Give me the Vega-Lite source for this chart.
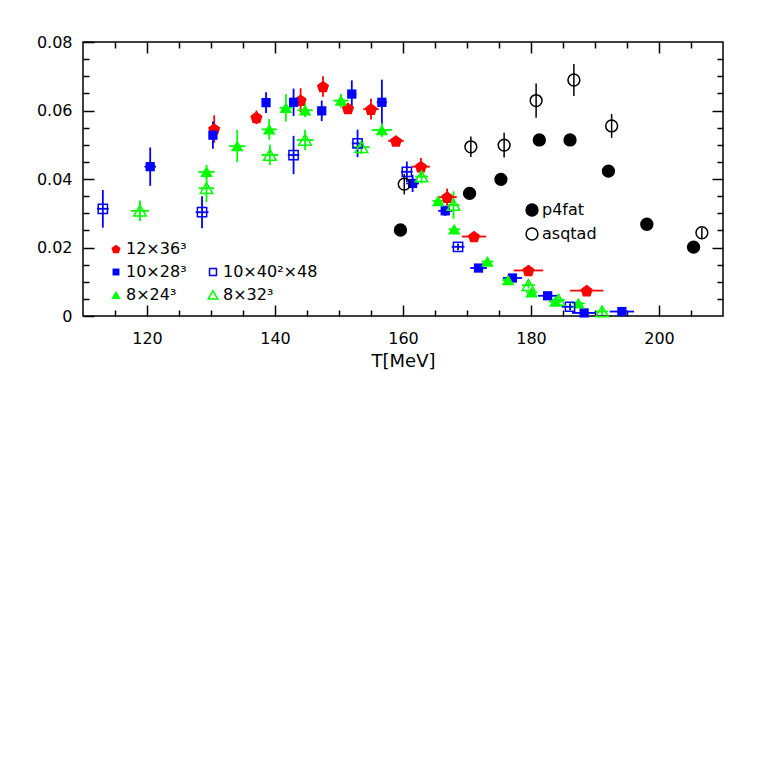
{
  "$schema": "https://vega.github.io/schema/vega-lite/v6.json",
  "width": 640,
  "height": 274,
  "autosize": {"type": "none"},
  "padding": {"left": 83, "top": 42, "right": 40, "bottom": 447},
  "background": "white",
  "config": {
    "font": "DejaVu Sans",
    "view": {"stroke": "black", "strokeWidth": 1.5},
    "axis": {"domain": false, "grid": false, "ticks": true, "tickColor": "black", "tickWidth": 1.5, "labelFont": "DejaVu Sans", "labelFontSize": 16, "labelColor": "black", "titleFont": "DejaVu Sans", "titleFontSize": 18, "titleFontWeight": "normal", "titleColor": "black", "labelOverlap": false, "labelFlush": false},
    "legend": {"labelFont": "DejaVu Sans", "labelFontSize": 16, "labelColor": "black", "padding": 0}
  },
  "datasets": {
    "pts": [
      {"s": "12×36³", "T": 130.5, "v": 0.0546, "vlo": 0.0506, "vhi": 0.0586, "tlo": 129.9, "thi": 131.1},
      {"s": "12×36³", "T": 137.1, "v": 0.058, "vlo": 0.056, "vhi": 0.060, "tlo": 136.5, "thi": 137.7},
      {"s": "12×36³", "T": 144.0, "v": 0.063, "vlo": 0.0595, "vhi": 0.0665, "tlo": 143.3, "thi": 144.7},
      {"s": "12×36³", "T": 147.5, "v": 0.067, "vlo": 0.064, "vhi": 0.070, "tlo": 146.8, "thi": 148.2},
      {"s": "12×36³", "T": 151.4, "v": 0.0606, "vlo": 0.0591, "vhi": 0.0621, "tlo": 150.6, "thi": 152.2},
      {"s": "12×36³", "T": 155.0, "v": 0.0604, "vlo": 0.0574, "vhi": 0.0634, "tlo": 153.8, "thi": 156.2},
      {"s": "12×36³", "T": 158.9, "v": 0.0511, "vlo": 0.0496, "vhi": 0.0526, "tlo": 157.7, "thi": 160.1},
      {"s": "12×36³", "T": 162.8, "v": 0.0436, "vlo": 0.0411, "vhi": 0.0461, "tlo": 161.4, "thi": 164.2},
      {"s": "12×36³", "T": 166.9, "v": 0.0347, "vlo": 0.0322, "vhi": 0.0372, "tlo": 165.4, "thi": 168.4},
      {"s": "12×36³", "T": 171.1, "v": 0.0232, "vlo": 0.0217, "vhi": 0.0247, "tlo": 169.2, "thi": 173.0},
      {"s": "12×36³", "T": 179.6, "v": 0.0133, "vlo": 0.0118, "vhi": 0.0148, "tlo": 177.3, "thi": 181.9},
      {"s": "12×36³", "T": 188.7, "v": 0.0074, "vlo": 0.0059, "vhi": 0.0089, "tlo": 186.1, "thi": 191.3},
      {"s": "10×28³", "T": 120.5, "v": 0.0436, "vlo": 0.038, "vhi": 0.0492, "tlo": 119.6, "thi": 121.4},
      {"s": "10×28³", "T": 130.3, "v": 0.0528, "vlo": 0.0488, "vhi": 0.0568, "tlo": 129.7, "thi": 130.9},
      {"s": "10×28³", "T": 138.6, "v": 0.0623, "vlo": 0.0593, "vhi": 0.0653, "tlo": 138.0, "thi": 139.2},
      {"s": "10×28³", "T": 142.9, "v": 0.0624, "vlo": 0.0584, "vhi": 0.0664, "tlo": 142.3, "thi": 143.5},
      {"s": "10×28³", "T": 147.3, "v": 0.0599, "vlo": 0.0569, "vhi": 0.0629, "tlo": 146.6, "thi": 148.0},
      {"s": "10×28³", "T": 152.0, "v": 0.0648, "vlo": 0.0608, "vhi": 0.0688, "tlo": 151.3, "thi": 152.7},
      {"s": "10×28³", "T": 156.7, "v": 0.0624, "vlo": 0.0558, "vhi": 0.069, "tlo": 155.9, "thi": 157.5},
      {"s": "10×28³", "T": 161.5, "v": 0.0387, "vlo": 0.0362, "vhi": 0.0412, "tlo": 160.5, "thi": 162.5},
      {"s": "10×28³", "T": 166.6, "v": 0.0307, "vlo": 0.0292, "vhi": 0.0322, "tlo": 165.5, "thi": 167.7},
      {"s": "10×28³", "T": 171.8, "v": 0.0140, "vlo": 0.013, "vhi": 0.015, "tlo": 170.5, "thi": 173.1},
      {"s": "10×28³", "T": 177.1, "v": 0.0111, "vlo": 0.0101, "vhi": 0.0121, "tlo": 175.6, "thi": 178.6},
      {"s": "10×28³", "T": 182.6, "v": 0.0059, "vlo": 0.0049, "vhi": 0.0069, "tlo": 181.1, "thi": 184.1},
      {"s": "10×28³", "T": 188.3, "v": 0.0009, "vlo": 0.0, "vhi": 0.0019, "tlo": 186.4, "thi": 190.2},
      {"s": "10×28³", "T": 194.2, "v": 0.0013, "vlo": 0.0003, "vhi": 0.0023, "tlo": 192.3, "thi": 196.1},
      {"s": "10×40²×48", "T": 113.1, "v": 0.0313, "vlo": 0.0258, "vhi": 0.0368, "tlo": 112.2, "thi": 114.0},
      {"s": "10×40²×48", "T": 128.6, "v": 0.0303, "vlo": 0.0256, "vhi": 0.035, "tlo": 127.6, "thi": 129.6},
      {"s": "10×40²×48", "T": 142.9, "v": 0.047, "vlo": 0.0414, "vhi": 0.0526, "tlo": 142.0, "thi": 143.8},
      {"s": "10×40²×48", "T": 152.9, "v": 0.0504, "vlo": 0.0464, "vhi": 0.0544, "tlo": 152.0, "thi": 153.8},
      {"s": "10×40²×48", "T": 160.6, "v": 0.0421, "vlo": 0.0391, "vhi": 0.0451, "tlo": 159.7, "thi": 161.5},
      {"s": "10×40²×48", "T": 168.6, "v": 0.0202, "vlo": 0.0192, "vhi": 0.0212, "tlo": 167.6, "thi": 169.6},
      {"s": "10×40²×48", "T": 186.1, "v": 0.0027, "vlo": 0.0017, "vhi": 0.0037, "tlo": 184.8, "thi": 187.4},
      {"s": "8×24³", "T": 129.3, "v": 0.0421, "vlo": 0.0401, "vhi": 0.0441, "tlo": 128.0, "thi": 130.6},
      {"s": "8×24³", "T": 134.1, "v": 0.0496, "vlo": 0.0449, "vhi": 0.0543, "tlo": 132.8, "thi": 135.4},
      {"s": "8×24³", "T": 139.1, "v": 0.0545, "vlo": 0.0515, "vhi": 0.0575, "tlo": 137.9, "thi": 140.3},
      {"s": "8×24³", "T": 141.7, "v": 0.0608, "vlo": 0.0568, "vhi": 0.0648, "tlo": 140.7, "thi": 142.7},
      {"s": "8×24³", "T": 144.7, "v": 0.0601, "vlo": 0.0581, "vhi": 0.0621, "tlo": 143.5, "thi": 145.9},
      {"s": "8×24³", "T": 150.3, "v": 0.0629, "vlo": 0.0609, "vhi": 0.0649, "tlo": 149.1, "thi": 151.5},
      {"s": "8×24³", "T": 156.7, "v": 0.0543, "vlo": 0.0523, "vhi": 0.0563, "tlo": 155.1, "thi": 158.3},
      {"s": "8×24³", "T": 165.5, "v": 0.0336, "vlo": 0.0326, "vhi": 0.0346, "tlo": 164.6, "thi": 166.4},
      {"s": "8×24³", "T": 168.0, "v": 0.0253, "vlo": 0.0243, "vhi": 0.0263, "tlo": 167.1, "thi": 168.9},
      {"s": "8×24³", "T": 173.2, "v": 0.0159, "vlo": 0.0149, "vhi": 0.0169, "tlo": 172.3, "thi": 174.1},
      {"s": "8×24³", "T": 176.4, "v": 0.0105, "vlo": 0.0095, "vhi": 0.0115, "tlo": 175.5, "thi": 177.3},
      {"s": "8×24³", "T": 180.1, "v": 0.0069, "vlo": 0.0059, "vhi": 0.0079, "tlo": 179.2, "thi": 181.0},
      {"s": "8×24³", "T": 183.8, "v": 0.0042, "vlo": 0.0032, "vhi": 0.0052, "tlo": 182.8, "thi": 184.8},
      {"s": "8×24³", "T": 187.4, "v": 0.0037, "vlo": 0.0027, "vhi": 0.0047, "tlo": 186.4, "thi": 188.4},
      {"s": "8×32³", "T": 118.9, "v": 0.0307, "vlo": 0.0277, "vhi": 0.0337, "tlo": 117.5, "thi": 120.3},
      {"s": "8×32³", "T": 129.3, "v": 0.0373, "vlo": 0.0333, "vhi": 0.0413, "tlo": 128.1, "thi": 130.5},
      {"s": "8×32³", "T": 139.2, "v": 0.047, "vlo": 0.044, "vhi": 0.05, "tlo": 137.9, "thi": 140.5},
      {"s": "8×32³", "T": 144.7, "v": 0.0514, "vlo": 0.0484, "vhi": 0.0544, "tlo": 143.4, "thi": 146.0},
      {"s": "8×32³", "T": 153.5, "v": 0.0493, "vlo": 0.0473, "vhi": 0.0513, "tlo": 152.2, "thi": 154.8},
      {"s": "8×32³", "T": 162.9, "v": 0.0407, "vlo": 0.0387, "vhi": 0.0427, "tlo": 161.9, "thi": 163.9},
      {"s": "8×32³", "T": 167.9, "v": 0.0324, "vlo": 0.0284, "vhi": 0.0364, "tlo": 167.0, "thi": 168.8},
      {"s": "8×32³", "T": 179.6, "v": 0.009, "vlo": 0.008, "vhi": 0.01, "tlo": 178.6, "thi": 180.6},
      {"s": "8×32³", "T": 184.3, "v": 0.0047, "vlo": 0.0037, "vhi": 0.0057, "tlo": 183.3, "thi": 185.3},
      {"s": "8×32³", "T": 191.1, "v": 0.0013, "vlo": 0.0003, "vhi": 0.0023, "tlo": 190.1, "thi": 192.1},
      {"s": "p4fat", "T": 159.6, "v": 0.0251},
      {"s": "p4fat", "T": 170.4, "v": 0.0358},
      {"s": "p4fat", "T": 175.3, "v": 0.0399},
      {"s": "p4fat", "T": 181.3, "v": 0.0514},
      {"s": "p4fat", "T": 186.1, "v": 0.0514},
      {"s": "p4fat", "T": 192.1, "v": 0.0423},
      {"s": "p4fat", "T": 198.1, "v": 0.0268},
      {"s": "p4fat", "T": 205.4, "v": 0.0201},
      {"s": "asqtad", "T": 160.2, "v": 0.0385, "vlo": 0.0355, "vhi": 0.0415},
      {"s": "asqtad", "T": 170.6, "v": 0.0494, "vlo": 0.0464, "vhi": 0.0524},
      {"s": "asqtad", "T": 175.8, "v": 0.0499, "vlo": 0.0463, "vhi": 0.0535},
      {"s": "asqtad", "T": 180.8, "v": 0.0629, "vlo": 0.0579, "vhi": 0.0679},
      {"s": "asqtad", "T": 186.7, "v": 0.0689, "vlo": 0.0642, "vhi": 0.0736},
      {"s": "asqtad", "T": 192.6, "v": 0.0555, "vlo": 0.052, "vhi": 0.059},
      {"s": "asqtad", "T": 206.7, "v": 0.0243, "vlo": 0.0228, "vhi": 0.0258}
    ]
  },
  "data": {"name": "pts"},
  "layer": [
    {
      "transform": [{"filter": {"field": "s", "oneOf": ["12×36³", "10×28³", "8×24³", "10×40²×48", "8×32³"]}}],
      "mark": {"type": "rule", "strokeWidth": 1.8},
      "encoding": {
        "x": {"field": "T", "type": "quantitative", "scale": {"domain": [110, 210], "nice": false, "zero": false}, "axis": null},
        "y": {"field": "vlo", "type": "quantitative", "scale": {"domain": [0, 0.08], "nice": false, "zero": false}, "axis": null},
        "y2": {"field": "vhi"},
        "color": {"field": "s", "type": "nominal", "scale": {"domain": ["12×36³", "10×28³", "8×24³", "10×40²×48", "8×32³"], "range": ["#ff0000", "#0000ff", "#00ff00", "#0000ff", "#00ff00"]}, "legend": null}
      }
    },
    {
      "transform": [{"filter": {"field": "s", "oneOf": ["12×36³", "10×28³", "8×24³", "10×40²×48", "8×32³"]}}],
      "mark": {"type": "rule", "strokeWidth": 1.8},
      "encoding": {
        "x": {"field": "tlo", "type": "quantitative", "scale": {"domain": [110, 210], "nice": false, "zero": false}, "axis": null},
        "x2": {"field": "thi"},
        "y": {"field": "v", "type": "quantitative", "scale": {"domain": [0, 0.08], "nice": false, "zero": false}, "axis": null},
        "color": {"field": "s", "type": "nominal", "scale": {"domain": ["12×36³", "10×28³", "8×24³", "10×40²×48", "8×32³"], "range": ["#ff0000", "#0000ff", "#00ff00", "#0000ff", "#00ff00"]}, "legend": null}
      }
    },
    {
      "transform": [{"filter": {"field": "s", "oneOf": ["12×36³", "10×28³", "8×24³"]}}],
      "mark": {"type": "point", "filled": true, "opacity": 1, "size": 196},
      "encoding": {
        "x": {"field": "T", "type": "quantitative", "scale": {"domain": [110, 210], "nice": false, "zero": false},
          "axis": {"orient": "bottom", "title": "T[MeV]", "titlePadding": 1, "values": [115, 120, 125, 130, 135, 140, 145, 150, 155, 160, 165, 170, 175, 180, 185, 190, 195, 200, 205], "labelExpr": "datum.value % 20 === 0 ? datum.label : ''", "tickSize": {"condition": {"test": "datum.value % 20 === 0", "value": -11}, "value": -6}, "labelPadding": 25}},
        "y": {"field": "v", "type": "quantitative", "scale": {"domain": [0, 0.08], "nice": false, "zero": false},
          "axis": {"orient": "left", "title": null, "values": [0, 0.005, 0.01, 0.015, 0.02, 0.025, 0.03, 0.035, 0.04, 0.045, 0.05, 0.055, 0.06, 0.065, 0.07, 0.075, 0.08], "labelExpr": "round(datum.value * 1000) % 20 === 0 ? (datum.value === 0 ? '0' : format(datum.value, '.2f')) : ''", "tickSize": {"condition": {"test": "round(datum.value * 1000) % 20 === 0", "value": -11}, "value": -6}, "labelPadding": 22}},
        "color": {"field": "s", "type": "nominal", "scale": {"domain": ["12×36³", "10×28³", "8×24³"], "range": ["#ff0000", "#0000ff", "#00ff00"]},
          "legend": {"title": null, "orient": "none", "legendX": 25, "legendY": 199, "symbolSize": 110, "labelOffset": 2, "rowPadding": 7}},
        "shape": {"field": "s", "type": "nominal", "scale": {"domain": ["12×36³", "10×28³", "8×24³"], "range": ["M0,-0.83L0.87,-0.2L0.54,0.83L-0.54,0.83L-0.87,-0.2Z", "M-0.66,-0.66L0.66,-0.66L0.66,0.66L-0.66,0.66Z", "M0,-0.8L0.9,0.75L-0.9,0.75Z"]},
          "legend": {"title": null, "orient": "none", "legendX": 25, "legendY": 199, "symbolSize": 110, "labelOffset": 2, "rowPadding": 7}}
      }
    },
    {
      "transform": [{"filter": {"field": "s", "oneOf": ["10×40²×48", "8×32³"]}}],
      "mark": {"type": "point", "filled": false, "opacity": 1, "strokeWidth": 1.5, "size": 196},
      "encoding": {
        "x": {"field": "T", "type": "quantitative", "scale": {"domain": [110, 210], "nice": false, "zero": false},
          "axis": {"orient": "top", "title": null, "labels": false, "values": [115, 120, 125, 130, 135, 140, 145, 150, 155, 160, 165, 170, 175, 180, 185, 190, 195, 200, 205], "tickSize": {"condition": {"test": "datum.value % 20 === 0", "value": -11}, "value": -6}}},
        "y": {"field": "v", "type": "quantitative", "scale": {"domain": [0, 0.08], "nice": false, "zero": false},
          "axis": {"orient": "right", "title": null, "labels": false, "values": [0.005, 0.01, 0.015, 0.02, 0.025, 0.03, 0.035, 0.04, 0.045, 0.05, 0.055, 0.06, 0.065, 0.07, 0.075], "tickSize": {"condition": {"test": "round(datum.value * 1000) % 20 === 0", "value": -11}, "value": -6}}},
        "color": {"field": "s", "type": "nominal", "scale": {"domain": ["10×40²×48", "8×32³"], "range": ["#0000ff", "#00ff00"]},
          "legend": {"title": null, "orient": "none", "legendX": 122, "legendY": 222, "symbolSize": 110, "symbolStrokeWidth": 1.5, "labelOffset": 2, "rowPadding": 7}},
        "shape": {"field": "s", "type": "nominal", "scale": {"domain": ["10×40²×48", "8×32³"], "range": ["M-0.66,-0.66L0.66,-0.66L0.66,0.66L-0.66,0.66Z", "M0,-0.8L0.9,0.75L-0.9,0.75Z"]},
          "legend": {"title": null, "orient": "none", "legendX": 122, "legendY": 222, "symbolSize": 110, "symbolStrokeWidth": 1.5, "labelOffset": 2, "rowPadding": 7}}
      }
    },
    {
      "transform": [{"filter": {"field": "s", "equal": "asqtad"}}],
      "mark": {"type": "rule", "strokeWidth": 1.5, "color": "black"},
      "encoding": {
        "x": {"field": "T", "type": "quantitative", "scale": {"domain": [110, 210], "nice": false, "zero": false}, "axis": null},
        "y": {"field": "vlo", "type": "quantitative", "scale": {"domain": [0, 0.08], "nice": false, "zero": false}, "axis": null},
        "y2": {"field": "vhi"}
      }
    },
    {
      "transform": [{"filter": {"field": "s", "oneOf": ["p4fat", "asqtad"]}}],
      "mark": {"type": "point", "shape": "circle", "filled": false, "stroke": "black", "strokeWidth": 1.5, "size": 140, "opacity": 1},
      "encoding": {
        "x": {"field": "T", "type": "quantitative", "scale": {"domain": [110, 210], "nice": false, "zero": false}, "axis": null},
        "y": {"field": "v", "type": "quantitative", "scale": {"domain": [0, 0.08], "nice": false, "zero": false}, "axis": null},
        "fill": {"field": "s", "type": "nominal", "scale": {"domain": ["p4fat", "asqtad"], "range": ["black", "transparent"]},
          "legend": {"title": null, "orient": "none", "legendX": 441, "legendY": 160, "symbolSize": 140, "symbolStrokeColor": "black", "symbolStrokeWidth": 1.5, "labelOffset": 2, "rowPadding": 6}}
      }
    }
  ],
  "resolve": {
    "scale": {"color": "independent", "shape": "independent", "fill": "independent"},
    "axis": {"x": "independent", "y": "independent"}
  }
}
